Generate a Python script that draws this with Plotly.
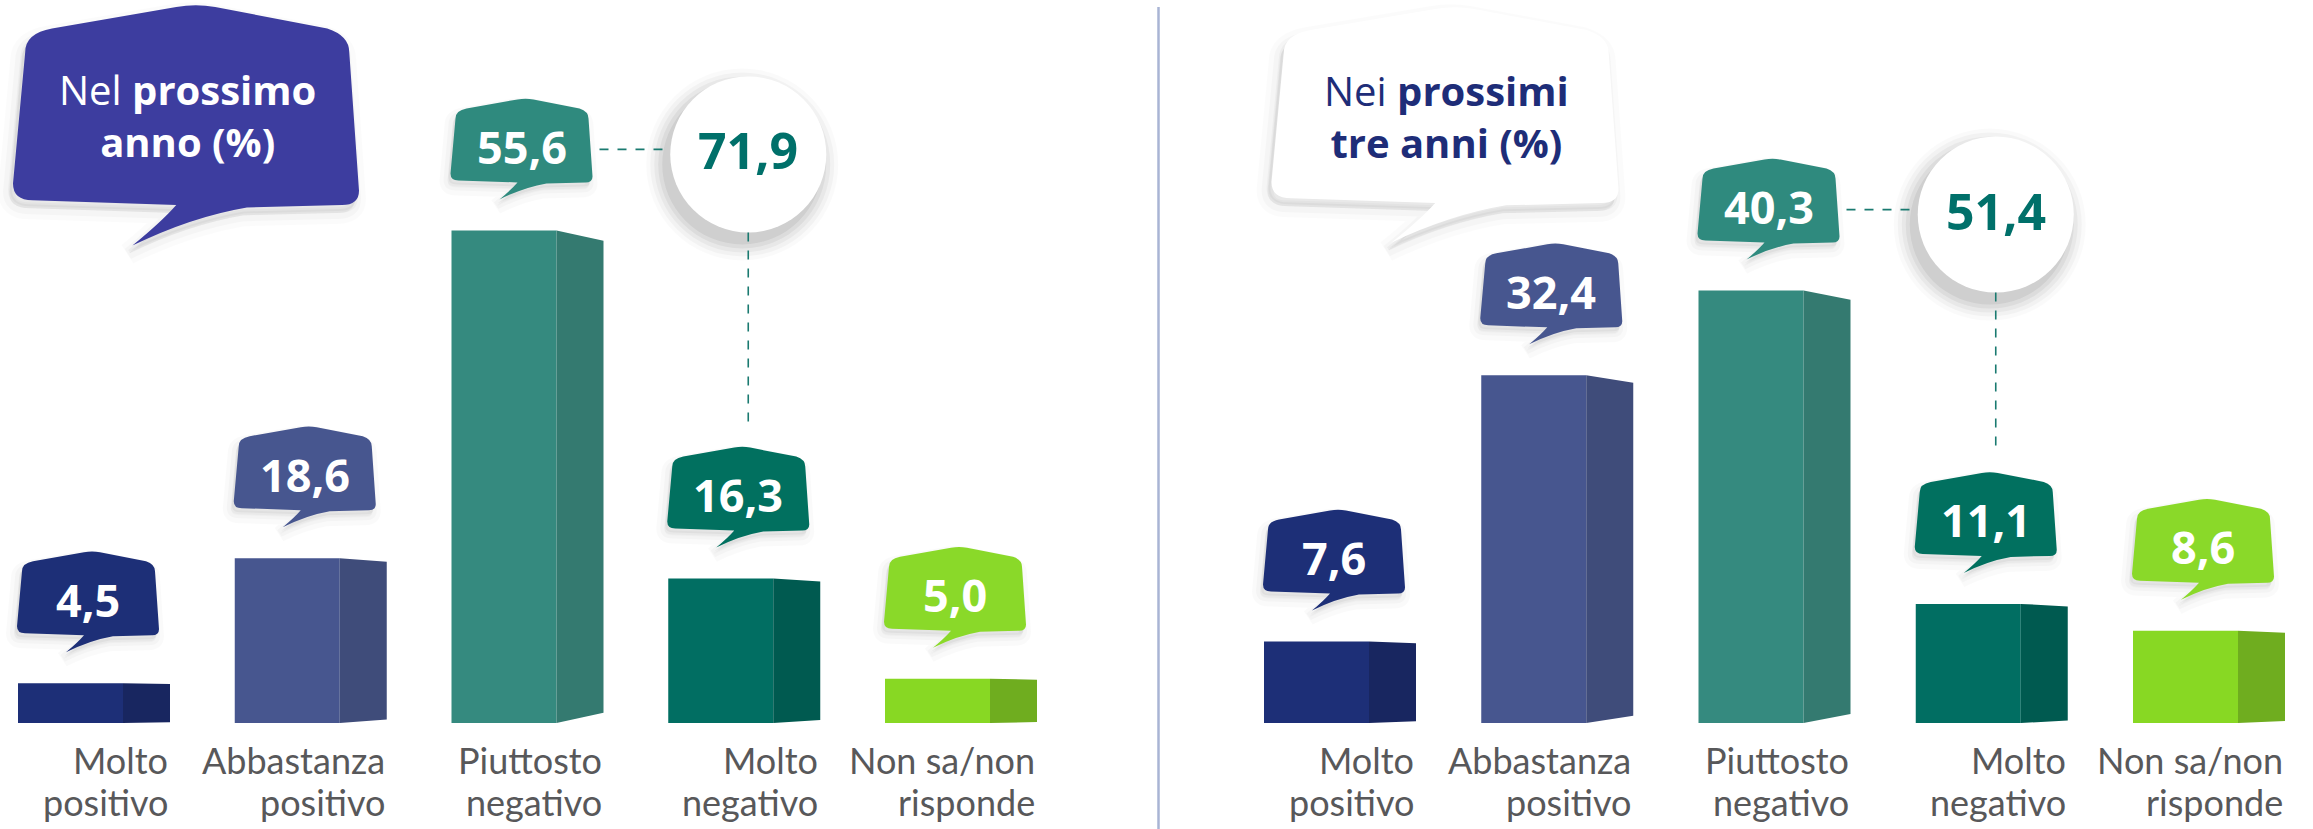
import plotly.graph_objects as go

# ---------------- data ----------------
categories = [["Molto", "positivo"], ["Abbastanza", "positivo"], ["Piuttosto", "negativo"],
              ["Molto", "negativo"], ["Non sa/non", "risponde"]]
values_prossimo_anno = [4.5, 18.6, 55.6, 16.3, 5.0]
values_prossimi_tre_anni = [7.6, 32.4, 40.3, 11.1, 8.6]
panel_titles = ["Nel <b>prossimo</b><br><b>anno (%)</b>",
                "Nei <b>prossimi</b><br><b>tre anni (%)</b>"]
# the two "negativo" categories are summed in the circle
sum_indices = [2, 3]

# ---------------- styles ----------------
front_colors = ["#1d2f77", "#47568f", "#358a7f", "#016e62", "#88d823"]
side_colors = ["#182660", "#3f4c7a", "#347a70", "#005a50", "#6fad1f"]
bubble_colors = ["#1d2f77", "#47568f", "#2f8a7e", "#01705f", "#8ad929"]
SUM_COLOR = "#00706a"
LABEL_COLOR = "#58585a"

W, H = 2313, 829
BASE = 723      # baseline pixel (from top)
SPLIT = 1157    # divider pixel

panels = [
    dict(values=values_prossimo_anno, x0=0, x1=SPLIT, first=94, step=216.75, ppu=8.86,
         xa="x", ya="y", title=panel_titles[0],
         tb=dict(cx=186, bottom=205, w=346, h=198, fill="#3d3d9f", color="white", ty=115)),
    dict(values=values_prossimi_tre_anni, x0=SPLIT, x1=W, first=1340, step=217.25, ppu=10.73,
         xa="x2", ya="y2", title=panel_titles[1],
         tb=dict(cx=1445, bottom=203, w=347, h=194, fill="white", color="#1e2d78", ty=116)),
]

# speech-bubble outline (pixel units, y up, relative to bubble centre / body bottom)
BUBBLE = [
    ("M", [(-55, 74)]),
    ("Q", [(-66, 72), (-66, 64)]),
    ("L", [(-71, 9)]),
    ("Q", [(-71, 2), (-63, 2)]),
    ("L", [(-4, 0)]),
    ("Q", [(-10, -7), (-22, -17)]),
    ("Q", [(2, -5), (25, -1)]),
    ("L", [(64, 0)]),
    ("Q", [(71, 0), (71, 6)]),
    ("L", [(67, 64)]),
    ("Q", [(67, 71), (58, 74)]),
    ("L", [(12, 83)]),
    ("Q", [(4, 84.5), (-4, 83)]),
]


def bubble_path(tf):
    parts = []
    for cmd, pts in BUBBLE:
        coords = " ".join("%.5f,%.5f" % tf(px, py) for px, py in pts)
        parts.append(cmd + " " + coords)
    return " ".join(parts) + " Z"


def fmt(v):
    return ("%.1f" % v).replace(".", ",")


fig = go.Figure()
shapes = []
annotations = []
layout_axes = {}

for p in panels:
    vals = p["values"]
    step, ppu = p["step"], p["ppu"]
    xa, ya = p["xa"], p["ya"]
    n = len(vals)
    idx = list(range(n))

    # axes
    xr = [(p["x0"] - p["first"]) / step, (p["x1"] - p["first"]) / step]
    yr = [0, BASE / ppu]
    xname = "xaxis" if xa == "x" else "xaxis2"
    yname = "yaxis" if ya == "y" else "yaxis2"
    layout_axes[xname] = dict(domain=[p["x0"] / W, p["x1"] / W], range=xr, visible=False,
                              fixedrange=True, anchor=ya)
    layout_axes[yname] = dict(domain=[1 - BASE / H, 1], range=yr, visible=False,
                              fixedrange=True, anchor=xa)

    # front faces
    fig.add_trace(go.Bar(x=idx, y=vals, width=105 / step, offset=-76 / step,
                         marker=dict(color=front_colors, line=dict(width=0)),
                         xaxis=xa, yaxis=ya, hoverinfo="skip", showlegend=False))
    # side faces
    for i, v in enumerate(vals):
        xa_ = i + 29 / step
        xb_ = i + 76 / step
        s = 0.021 * v
        fig.add_trace(go.Scatter(x=[xa_, xa_, xb_, xb_, xa_], y=[0, v, v - s, s, 0],
                                 mode="lines", fill="toself", fillcolor=side_colors[i],
                                 line=dict(width=0, color=side_colors[i]),
                                 xaxis=xa, yaxis=ya, hoverinfo="skip", showlegend=False))

    # value bubbles
    for i, v in enumerate(vals):
        for (ox, oy, lw, alpha) in [(-3, -7, 16, 0.018), (-3, -6, 8, 0.025), (-2, -4, 0, 0.04)]:
            tf = (lambda px, py, i=i, v=v, ox=ox, oy=oy:
                  (i + (-6 + px + ox) / step, v + (48 + py + oy) / ppu))
            shapes.append(dict(type="path", xref=xa, yref=ya, path=bubble_path(tf),
                               fillcolor="rgba(0,0,0,%g)" % alpha,
                               line=dict(width=lw, color="rgba(0,0,0,%g)" % alpha)))
        tf = (lambda px, py, i=i, v=v: (i + (-6 + px) / step, v + (48 + py) / ppu))
        shapes.append(dict(type="path", xref=xa, yref=ya, path=bubble_path(tf),
                           fillcolor=bubble_colors[i], line=dict(width=0)))
        annotations.append(dict(x=i - 6 / step, y=v + 84 / ppu, xref=xa, yref=ya,
                                text="<b>%s</b>" % fmt(v), showarrow=False,
                                xanchor="center", yanchor="middle",
                                font=dict(family="Open Sans", size=45, color="white")))

    # category labels (one annotation per line, right-aligned on the bar edge)
    for i, lines in enumerate(categories):
        for k, line in enumerate(lines):
            annotations.append(dict(x=i + 76 / step, y=1 - (736 + 42 * k) / H,
                                    xref=xa, yref="paper",
                                    text=line, showarrow=False, xanchor="right",
                                    yanchor="top", align="right",
                                    font=dict(family="Lato", size=36, color=LABEL_COLOR)))

    # sum circle
    a, b = sum_indices
    total = vals[a] + vals[b]
    ccx = b + 4 / step
    ccy = vals[a] + 76 / ppu
    R = 78
    for k, alpha in [(18, 0.02), (14, 0.03), (10, 0.04), (6, 0.05), (2, 0.06)]:
        shapes.append(dict(type="circle", xref=xa, yref=ya,
                           x0=ccx + (-6 - R - k) / step, x1=ccx + (-6 + R + k) / step,
                           y0=ccy + (-10 - R - k) / ppu, y1=ccy + (-10 + R + k) / ppu,
                           fillcolor="rgba(0,0,0,%g)" % alpha, line=dict(width=0)))
    shapes.append(dict(type="circle", xref=xa, yref=ya,
                       x0=ccx - R / step, x1=ccx + R / step,
                       y0=ccy - R / ppu, y1=ccy + R / ppu,
                       fillcolor="white", line=dict(width=0)))
    annotations.append(dict(x=ccx, y=ccy + 4 / ppu, xref=xa, yref=ya,
                            text="<b>%s</b>" % fmt(total),
                            showarrow=False, xanchor="center", yanchor="middle",
                            font=dict(family="Open Sans", size=50, color=SUM_COLOR)))
    # dashed connectors
    shapes.append(dict(type="line", xref=xa, yref=ya,
                       x0=a + (-6 + 71 + 7) / step, x1=ccx - R / step,
                       y0=ccy + 5 / ppu, y1=ccy + 5 / ppu,
                       line=dict(color="#1a7a70", width=1.6, dash="dash")))
    shapes.append(dict(type="line", xref=xa, yref=ya,
                       x0=ccx, x1=ccx,
                       y0=ccy - R / ppu, y1=vals[b] + (48 + 83 + 25) / ppu,
                       line=dict(color="#1a7a70", width=1.6, dash="dash")))

    # title bubble (paper coordinates)
    tb = p["tb"]
    sx, sy = tb["w"] / 142, tb["h"] / 83
    for (ox, oy, lw, alpha) in [(-4, -8, 22, 0.015), (-4, -8, 12, 0.022), (-3, -6, 4, 0.03)]:
        tf = (lambda px, py, tb=tb, ox=ox, oy=oy:
              ((tb["cx"] + px * sx + ox) / W, 1 - (tb["bottom"] - py * sy - oy) / H))
        shapes.append(dict(type="path", xref="paper", yref="paper", path=bubble_path(tf),
                           fillcolor="rgba(0,0,0,%g)" % alpha,
                           line=dict(width=lw, color="rgba(0,0,0,%g)" % alpha)))
    tf = (lambda px, py, tb=tb: ((tb["cx"] + px * sx) / W, 1 - (tb["bottom"] - py * sy) / H))
    shapes.append(dict(type="path", xref="paper", yref="paper", path=bubble_path(tf),
                       fillcolor=tb["fill"], line=dict(width=0)))
    annotations.append(dict(x=(tb["cx"] + 1) / W, y=1 - tb["ty"] / H, xref="paper", yref="paper",
                            text=p["title"], showarrow=False, xanchor="center",
                            yanchor="middle", align="center",
                            font=dict(family="Open Sans", size=40, color=tb["color"])))

# divider
shapes.append(dict(type="line", xref="paper", yref="paper",
                   x0=1158.5 / W, x1=1158.5 / W, y0=0, y1=1 - 7 / H,
                   line=dict(color="#a9b4d4", width=2.5)))

fig.update_layout(
    width=W, height=H,
    margin=dict(l=0, r=0, t=0, b=0),
    paper_bgcolor="white", plot_bgcolor="white",
    showlegend=False, barmode="overlay", hovermode=False,
    shapes=shapes, annotations=annotations,
    **layout_axes,
)

fig.write_html("out.html", config={"displayModeBar": False, "staticPlot": True},
               post_script="document.body.style.margin='0';document.body.style.overflow='hidden';")
